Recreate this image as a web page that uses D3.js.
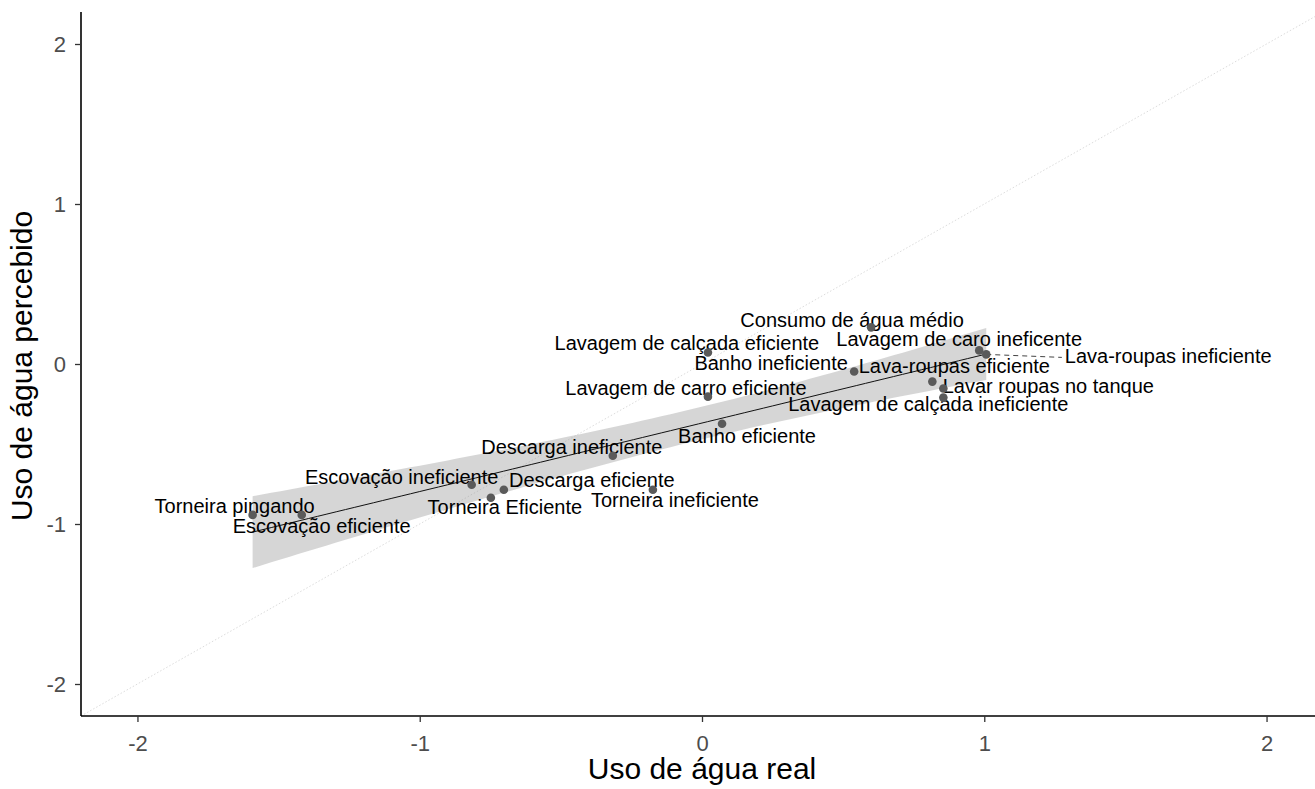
<!DOCTYPE html>
<html>
<head>
<meta charset="utf-8">
<script src="https://cdn.jsdelivr.net/npm/d3@7"></script>
<style>
  html, body { margin: 0; padding: 0; background: #ffffff; }
  svg { display: block; font-family: "Liberation Sans", Arial, sans-serif; }
</style>
</head>
<body>
<svg id="chart" width="1315" height="789"></svg>
<script>
// Activities and their standardised real vs perceived water use
const activities = [
  "Torneira pingando",
  "Escovação eficiente",
  "Escovação ineficiente",
  "Torneira Eficiente",
  "Descarga eficiente",
  "Descarga ineficiente",
  "Torneira ineficiente",
  "Banho eficiente",
  "Lavagem de calçada eficiente",
  "Lavagem de carro eficiente",
  "Consumo de água médio",
  "Banho ineficiente",
  "Lava-roupas eficiente",
  "Lavar roupas no tanque",
  "Lavagem de calçada ineficiente",
  "Lavagem de caro ineficente",
  "Lava-roupas ineficiente"
];
const realUse = [
  -1.592, -1.418, -0.816, -0.748, -0.702, -0.316, -0.174, 0.071,
  0.021, 0.021, 0.599, 0.539, 0.816, 0.855, 0.855, 0.982, 1.007
];
const perceivedUse = [
  -0.943, -0.943, -0.755, -0.836, -0.786, -0.573, -0.786, -0.373,
  0.072, -0.204, 0.229, -0.047, -0.110, -0.153, -0.210, 0.085, 0.060
];
const xTicks = [-2, -1, 0, 1, 2];
const yTicks = [-2, -1, 0, 1, 2];
const xTickLabels = ["-2", "-1", "0", "1", "2"];
const yTickLabels = ["-2", "-1", "0", "1", "2"];

// Repelled label placement: offset (px) of each label's centre/baseline from its point
const labelDx = [-18, 20, -70, 14, 88, -41, 22, 25, -21, -22, -19, -83, 22, 105, -15, -20, 182];
const labelDy = [-2, 18, -1, 16, -3, -2, 17, 19, -2, -2, 0, -2, -9, 5, 13, -4, 9];
// Labels pushed far from their point get a leader segment
const withSegment = [false, false, false, false, false, false, false, false,
  false, false, false, false, false, false, false, false, true];

const svg = d3.select("#chart");
const W = 1315, H = 789;
svg.append("rect").attr("width", W).attr("height", H).attr("fill", "#ffffff");

const x = d3.scaleLinear().domain([-2.2, 2.2]).range([81, 1323]);
const y = d3.scaleLinear().domain([-2.2, 2.2]).range([716, 12]);

svg.append("clipPath").attr("id", "panel")
  .append("rect").attr("x", 81).attr("y", 12).attr("width", W - 81).attr("height", 704);

const panel = svg.append("g").attr("clip-path", "url(#panel)");

// Identity reference line y = x
panel.append("line")
  .attr("x1", x(-2.2)).attr("y1", y(-2.2))
  .attr("x2", x(2.2)).attr("y2", y(2.2))
  .attr("stroke", "#dcdcdc").attr("stroke-width", 1)
  .attr("stroke-dasharray", "1.5,2");

// Ordinary least squares fit with 95% confidence band
const pts = realUse.map((v, i) => ({ x: v, y: perceivedUse[i], name: activities[i], i }));
const n = pts.length;
const mx = d3.mean(pts, d => d.x), my = d3.mean(pts, d => d.y);
const sxx = d3.sum(pts, d => (d.x - mx) ** 2);
const sxy = d3.sum(pts, d => (d.x - mx) * (d.y - my));
const slope = sxy / sxx, intercept = my - slope * mx;
const sse = d3.sum(pts, d => (d.y - (intercept + slope * d.x)) ** 2);
const sigma = Math.sqrt(sse / (n - 2));
const tCrit = 2.1314; // Student t, 97.5% quantile, 15 degrees of freedom (n = 17)
const [xmin, xmax] = d3.extent(pts, d => d.x);
const grid = d3.range(80).map(k => xmin + (xmax - xmin) * k / 79);
const band = grid.map(gx => {
  const fit = intercept + slope * gx;
  const se = sigma * Math.sqrt(1 / n + (gx - mx) ** 2 / sxx);
  return { x: gx, fit, lo: fit - tCrit * se, hi: fit + tCrit * se };
});

panel.append("path")
  .datum(band)
  .attr("d", d3.area().x(d => x(d.x)).y0(d => y(d.lo)).y1(d => y(d.hi)))
  .attr("fill", "#999999").attr("fill-opacity", 0.4);

panel.append("path")
  .datum(band)
  .attr("d", d3.line().x(d => x(d.x)).y(d => y(d.fit)))
  .attr("fill", "none").attr("stroke", "#111111").attr("stroke-width", 1);

// Leader segments
const fontSize = 20;
const labels = svg.append("g");
pts.forEach(d => {
  if (!withSegment[d.i]) return;
  const px = x(d.x), py = y(d.y);
  const tmp = labels.append("text").attr("font-size", fontSize).text(d.name);
  const w = tmp.node().getComputedTextLength();
  tmp.remove();
  const lx = px + labelDx[d.i] - w / 2 - 3;
  const ly = py + labelDy[d.i] - 6;
  labels.append("line")
    .attr("x1", px).attr("y1", py).attr("x2", lx).attr("y2", ly)
    .attr("stroke", "#444444").attr("stroke-width", 1)
    .attr("stroke-dasharray", "5,4");
});

// Points
svg.append("g").selectAll("circle")
  .data(pts).join("circle")
  .attr("cx", d => x(d.x)).attr("cy", d => y(d.y))
  .attr("r", 4.3).attr("fill", "#5a5a5a");

// Point labels
labels.selectAll("text.lbl")
  .data(pts).join("text")
  .attr("class", "lbl")
  .attr("x", d => x(d.x) + labelDx[d.i])
  .attr("y", d => y(d.y) + labelDy[d.i])
  .attr("text-anchor", "middle")
  .attr("font-size", fontSize)
  .attr("fill", "#000000")
  .text(d => d.name);

// Axes
const xAxis = svg.append("g").attr("transform", `translate(0,${y(-2.2)})`)
  .call(d3.axisBottom(x).tickValues(xTicks).tickSize(6).tickPadding(13)
    .tickFormat((d, i) => xTickLabels[i]));
const yAxis = svg.append("g").attr("transform", `translate(${x(-2.2)},0)`)
  .call(d3.axisLeft(y).tickValues(yTicks).tickSize(6).tickPadding(9)
    .tickFormat((d, i) => yTickLabels[i]));

[xAxis, yAxis].forEach(g => {
  g.select(".domain").attr("stroke", "#000000").attr("stroke-width", 1.6);
  g.selectAll(".tick line").attr("stroke", "#333333").attr("stroke-width", 1.3);
  g.selectAll(".tick text")
    .attr("fill", "#4d4d4d")
    .attr("font-size", 22)
    .attr("font-family", "'Liberation Sans', Arial, sans-serif");
});
xAxis.select(".domain").attr("d", `M${x(-2.2)},0H${W}`);
yAxis.select(".domain").attr("d", `M0,${y(2.2)}V${y(-2.2)}`);

// Axis titles
svg.append("text")
  .attr("x", x(0)).attr("y", 779)
  .attr("text-anchor", "middle")
  .attr("font-size", 30)
  .attr("fill", "#000000")
  .text("Uso de água real");

svg.append("text")
  .attr("transform", `translate(32,${y(0) + 2}) rotate(-90)`)
  .attr("text-anchor", "middle")
  .attr("font-size", 30)
  .attr("fill", "#000000")
  .text("Uso de água percebido");
</script>
</body>
</html>
